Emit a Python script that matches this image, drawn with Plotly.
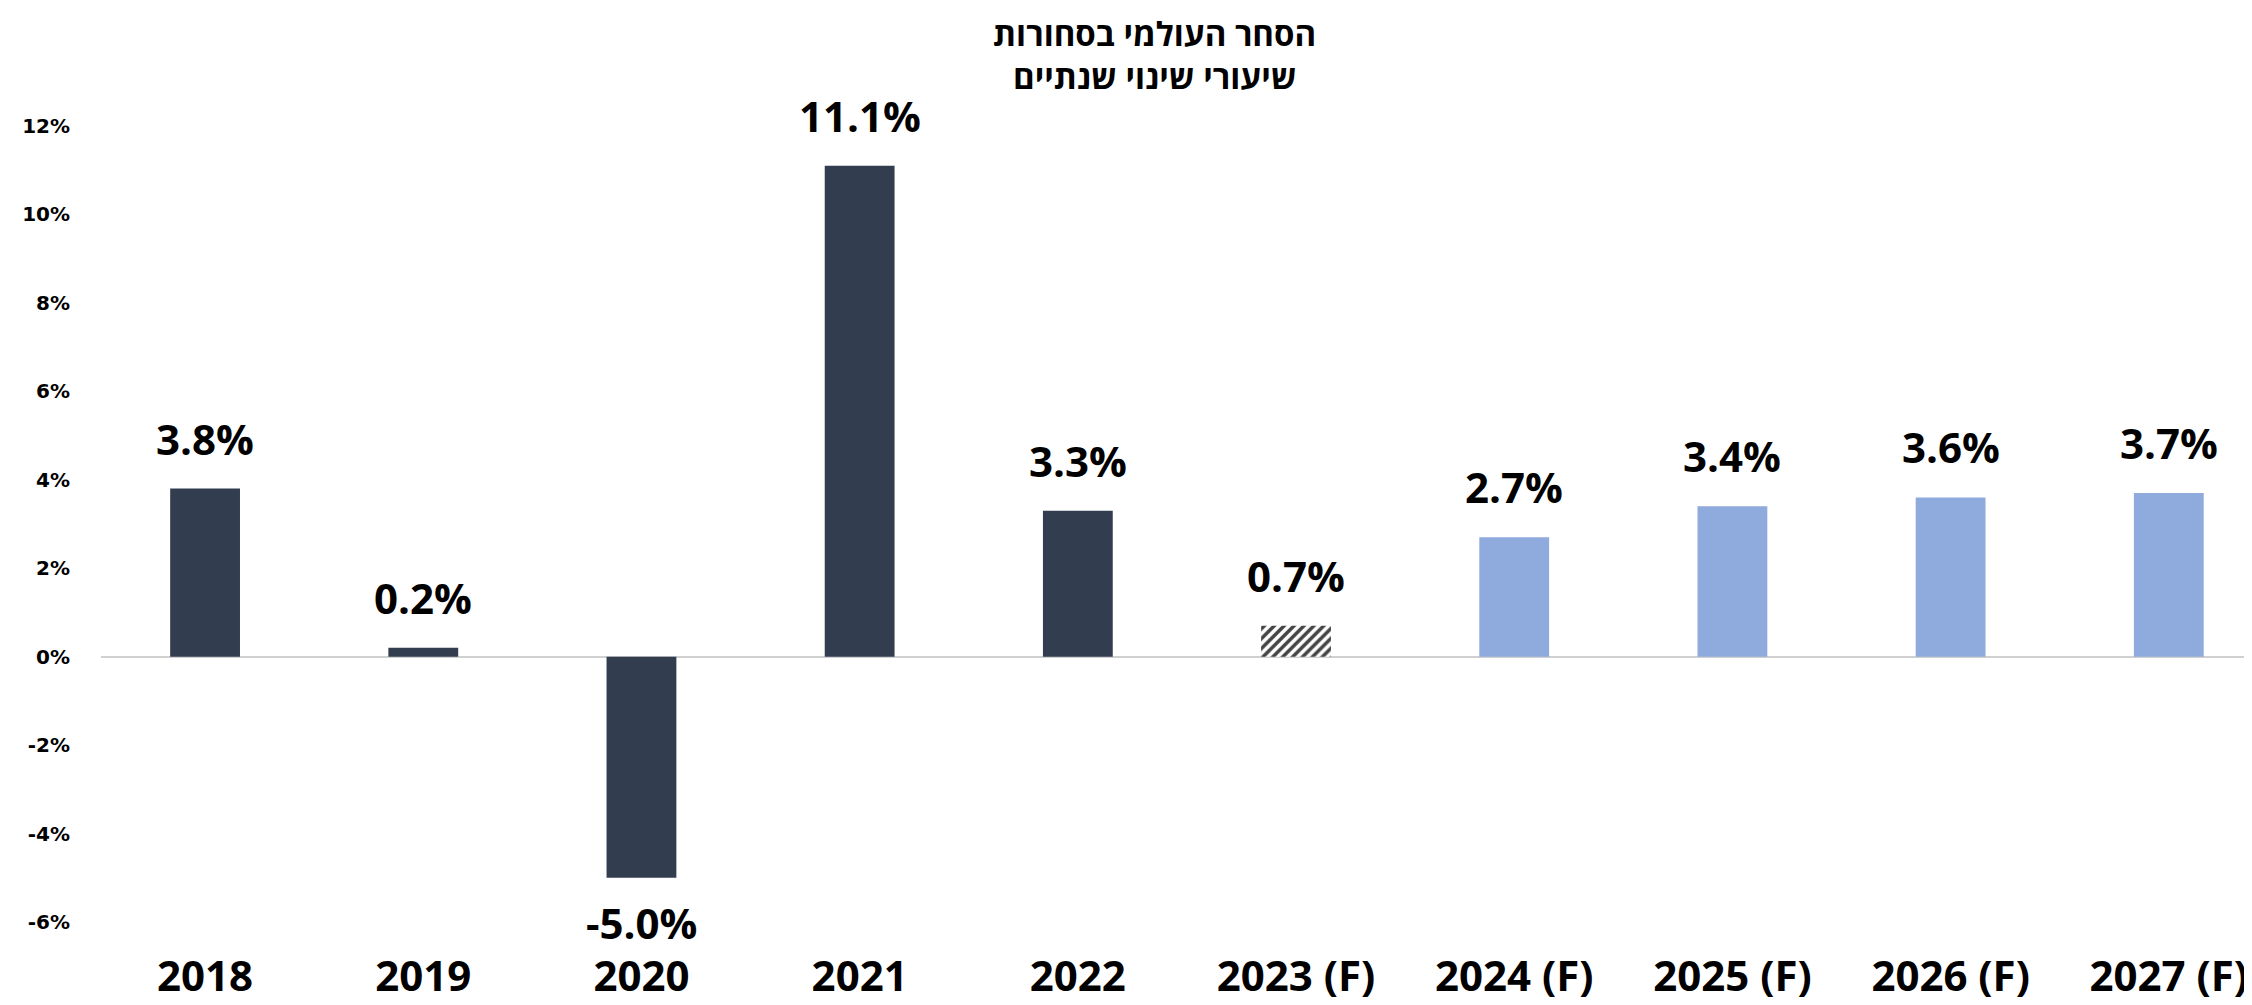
import plotly.graph_objects as go

categories = ["2018", "2019", "2020", "2021", "2022", "2023 (F)", "2024 (F)", "2025 (F)", "2026 (F)", "2027 (F)"]
values = [3.8, 0.2, -5.0, 11.1, 3.3, 0.7, 2.7, 3.4, 3.6, 3.7]
kinds = ["actual", "actual", "actual", "actual", "actual", "estimate", "forecast", "forecast", "forecast", "forecast"]
y_ticks = [-6, -4, -2, 0, 2, 4, 6, 8, 10, 12]
title_lines = ["הסחר העולמי בסחורות", "שיעורי שינוי שנתיים"]

DARK = "#323E50"
LIGHT = "#8FAADC"

colors = []
patterns = []
for k in kinds:
    if k == "actual":
        colors.append(DARK); patterns.append("")
    elif k == "estimate":
        colors.append("white"); patterns.append("/")
    else:
        colors.append(LIGHT); patterns.append("")

fig = go.Figure()
fig.add_trace(go.Bar(
    x=categories, y=values, width=0.32,
    marker=dict(color=colors, line=dict(width=0),
                pattern=dict(shape=patterns, fgcolor=DARK, fgopacity=1,
                             size=7, solidity=0.5, fillmode="overlay")),
    hoverinfo="x+y",
))

for i, v in enumerate(values):
    fig.add_annotation(
        x=i, y=v, text=f"{v:.1f}%", showarrow=False,
        xref="x", yref="y",
        yanchor="bottom" if v >= 0 else "top",
        yshift=20 if v >= 0 else -14,
        font=dict(family="Open Sans", size=42, color="black", weight="bold"),
    )

# title as two centred lines
plot_top, plot_h = 118, 1005 - 118 - 91
for line, y_px in zip(title_lines, [25, 68]):
    fig.add_annotation(
        text=f"<b>{line}</b>", xref="paper", yref="paper", x=0.488, y=1 - (y_px - plot_top) / plot_h,
        xanchor="center", yanchor="middle", showarrow=False,
        font=dict(family="Open Sans", size=33, color="black", weight="bold"),
    )

fig.update_layout(
    width=2252, height=1005,
    paper_bgcolor="white", plot_bgcolor="rgba(0,0,0,0)",
    margin=dict(l=93, r=0, t=plot_top, b=91),
    showlegend=False,
)
fig.update_xaxes(
    type="category",
    range=[-0.477, 9.418], showgrid=False, showline=False, zeroline=False,
    tickfont=dict(family="Open Sans", size=42, color="black", weight="bold"),
    ticklabelstandoff=26,
)
fig.update_yaxes(
    range=[-6, 12], tickvals=y_ticks, ticktext=[f"{t}%" for t in y_ticks],
    showgrid=False, showline=False, zeroline=True, zerolinecolor="#D0D0D0", zerolinewidth=2,
    ticks="outside", ticklen=26, tickcolor="rgba(0,0,0,0)",
    tickfont=dict(family="DejaVu Sans", size=20, color="black", weight="bold"),
)

fig.write_html("out.html")
